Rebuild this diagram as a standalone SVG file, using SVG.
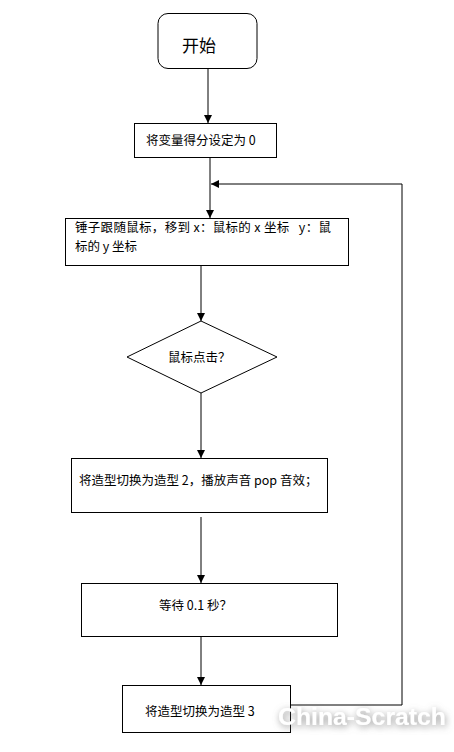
<svg xmlns="http://www.w3.org/2000/svg" width="454" height="752" viewBox="0 0 454 752">
<defs>
<style>
.box{fill:#fff;stroke:#000;stroke-width:1}
.t{font-family:"Noto Sans CJK SC","Noto Sans",sans-serif;font-size:12.5px;fill:#000}
.c{fill:none;stroke:#000;stroke-width:1}
.wm{font-family:"Liberation Sans",Arial,sans-serif;font-weight:bold;font-size:23px}
</style>
<marker id="ah" markerWidth="8" markerHeight="8" refX="8" refY="4" orient="auto" markerUnits="userSpaceOnUse">
<path d="M0,0 L8,4 L0,8 Z" fill="#000"/>
</marker>
<filter id="glow" x="-20%" y="-60%" width="140%" height="220%">
<feGaussianBlur in="SourceAlpha" stdDeviation="3.5" result="b"/>
<feOffset in="b" dx="1" dy="2" result="o"/>
<feFlood flood-color="#777" flood-opacity="0.8"/>
<feComposite in2="o" operator="in" result="s"/>
<feMerge><feMergeNode in="s"/><feMergeNode in="SourceGraphic"/></feMerge>
</filter>
</defs>
<rect width="454" height="752" fill="#fff"/>
<g id="connectors">
<line class="c" x1="208" y1="68" x2="208" y2="123" marker-end="url(#ah)"/>
<line class="c" x1="210" y1="157" x2="210" y2="218" marker-end="url(#ah)"/>
<polyline class="c" points="290,705 402,705 402,184 211,184" stroke="#444" marker-end="url(#ah)"/>
<line class="c" x1="201" y1="266" x2="201" y2="321" marker-end="url(#ah)"/>
<line class="c" x1="201" y1="393" x2="201" y2="458" marker-end="url(#ah)"/>
<line class="c" x1="201" y1="517" x2="201" y2="583" marker-end="url(#ah)"/>
<line class="c" x1="201" y1="636" x2="201" y2="685" marker-end="url(#ah)"/>
</g>
<g id="start">
<rect class="box" x="158" y="13.5" width="99" height="55" rx="10"/>
<text class="t" x="199" y="52" text-anchor="middle" style="font-size:17px">开始</text>
</g>
<g id="init">
<rect class="box" x="134.5" y="123.5" width="142" height="34"/>
<text class="t" x="146" y="145">将变量得分设定为 0</text>
</g>
<g id="follow">
<rect class="box" x="65.5" y="218.5" width="283" height="47"/>
<text class="t" x="75" y="232" xml:space="preserve" textLength="256">锤子跟随鼠标，移到 x：鼠标的 x 坐标   y：鼠</text>
<text class="t" x="75" y="251">标的 y 坐标</text>
</g>
<g id="decision">
<polygon class="box" points="201,321 277,357 201,393 127,357"/>
<text class="t" x="168" y="362">鼠标点击？</text>
</g>
<g id="costume2">
<rect class="box" x="71.5" y="458.5" width="256" height="54"/>
<text class="t" x="79" y="485">将造型切换为造型 2，播放声音 pop 音效；</text>
</g>
<g id="wait">
<rect class="box" x="81.5" y="583.5" width="256" height="53"/>
<text class="t" x="159" y="610">等待 0.1 秒？</text>
</g>
<g id="costume3">
<rect class="box" x="122.5" y="685.5" width="168" height="47"/>
<text class="t" x="145" y="716">将造型切换为造型 3</text>
</g>
<g id="watermark">
<text class="wm" x="278" y="725" fill="#fff" filter="url(#glow)" textLength="168" lengthAdjust="spacingAndGlyphs">China-Scratch</text>
</g>
</svg>
